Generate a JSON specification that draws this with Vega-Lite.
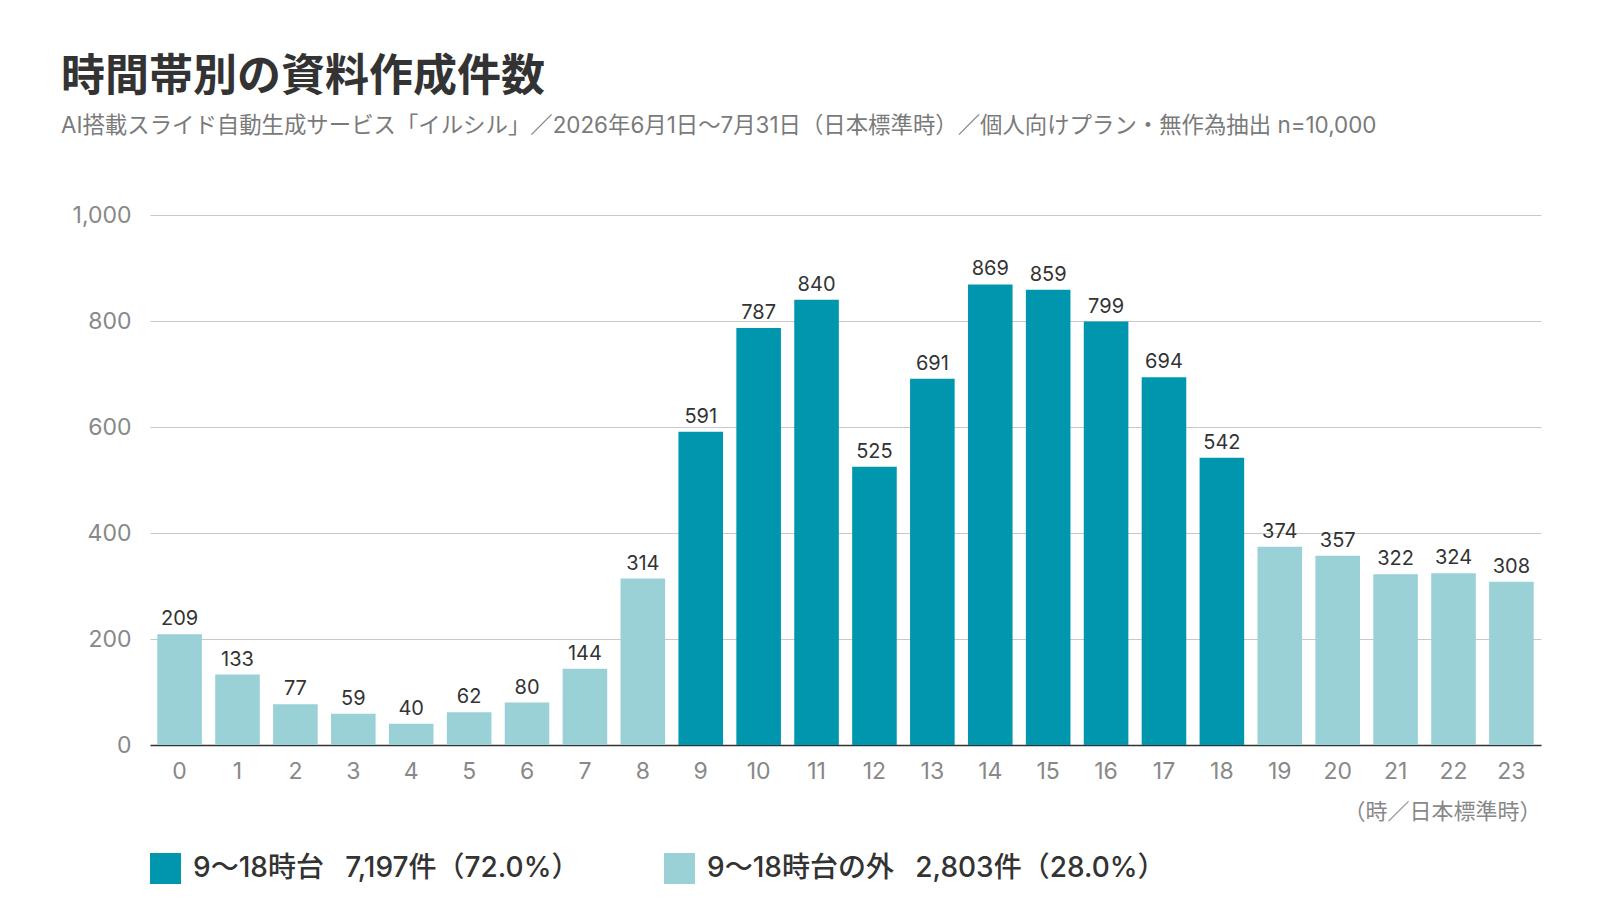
{
  "$schema": "https://vega.github.io/schema/vega-lite/v6.json",
  "width": 1391,
  "height": 530,
  "autosize": {"type": "none"},
  "padding": {"left": 150, "top": 215, "right": 59, "bottom": 155},
  "background": "white",
  "config": {
    "font": "Inter, Noto Sans CJK JP",
    "view": {"stroke": null}
  },
  "title": {
    "text": "時間帯別の資料作成件数",
    "subtitle": "AI搭載スライド自動生成サービス「イルシル」／2026年6月1日〜7月31日（日本標準時）／個人向けプラン・無作為抽出 n=10,000",
    "anchor": "start",
    "frame": "group",
    "dx": -89,
    "offset": 67,
    "font": "Noto Sans CJK JP",
    "fontSize": 44,
    "fontWeight": "bold",
    "color": "#333333",
    "subtitleFont": "Inter, Noto Sans CJK JP",
    "subtitleFontSize": 22.4,
    "subtitleColor": "#7a7a7a",
    "subtitlePadding": 15
  },
  "data": {
    "values": [
      {"hour": 0, "count": 209, "group": "out"},
      {"hour": 1, "count": 133, "group": "out"},
      {"hour": 2, "count": 77, "group": "out"},
      {"hour": 3, "count": 59, "group": "out"},
      {"hour": 4, "count": 40, "group": "out"},
      {"hour": 5, "count": 62, "group": "out"},
      {"hour": 6, "count": 80, "group": "out"},
      {"hour": 7, "count": 144, "group": "out"},
      {"hour": 8, "count": 314, "group": "out"},
      {"hour": 9, "count": 591, "group": "in"},
      {"hour": 10, "count": 787, "group": "in"},
      {"hour": 11, "count": 840, "group": "in"},
      {"hour": 12, "count": 525, "group": "in"},
      {"hour": 13, "count": 691, "group": "in"},
      {"hour": 14, "count": 869, "group": "in"},
      {"hour": 15, "count": 859, "group": "in"},
      {"hour": 16, "count": 799, "group": "in"},
      {"hour": 17, "count": 694, "group": "in"},
      {"hour": 18, "count": 542, "group": "in"},
      {"hour": 19, "count": 374, "group": "out"},
      {"hour": 20, "count": 357, "group": "out"},
      {"hour": 21, "count": 322, "group": "out"},
      {"hour": 22, "count": 324, "group": "out"},
      {"hour": 23, "count": 308, "group": "out"}
    ]
  },
  "encoding": {
    "x": {
      "field": "hour",
      "type": "ordinal",
      "scale": {"paddingInner": 0.23, "paddingOuter": 0.126},
      "axis": {
        "title": "（時／日本標準時）",
        "titleAnchor": "end",
        "titleAlign": "right",
        "titleFontSize": 22,
        "titleFontWeight": "normal",
        "titleColor": "#888888",
        "titlePadding": 18,
        "labelAngle": 0,
        "labelFontSize": 23,
        "labelColor": "#888888",
        "labelPadding": 15,
        "ticks": false,
        "domainColor": "#333333",
        "domainWidth": 1.5
      }
    },
    "y": {
      "field": "count",
      "type": "quantitative",
      "scale": {"domain": [0, 1000]},
      "axis": {
        "title": null,
        "values": [0, 200, 400, 600, 800, 1000],
        "format": ",d",
        "labelFontSize": 23,
        "labelColor": "#888888",
        "labelPadding": 19,
        "ticks": false,
        "domain": false,
        "gridColor": "#c8c8c8",
        "gridWidth": 1
      }
    }
  },
  "layer": [
    {
      "mark": {"type": "bar"},
      "encoding": {
        "color": {
          "field": "group",
          "type": "nominal",
          "scale": {"domain": ["in", "out"], "range": ["#0097ae", "#99d1d6"]},
          "legend": {
            "title": null,
            "orient": "none",
            "legendX": 0,
            "legendY": 638,
            "direction": "horizontal",
            "symbolType": "square",
            "symbolSize": 961,
            "symbolStrokeWidth": 0,
            "symbolOpacity": 1,
            "labelFont": "Inter, Noto Sans CJK JP",
            "labelFontSize": 28,
            "labelFontWeight": 500,
            "labelColor": "#333333",
            "labelOffset": 12,
            "labelLimit": 700,
            "columnPadding": 84,
            "labelExpr": "datum.value == 'in' ? '9〜18時台\u2002\u00a07,197件（72.0%）' : '9〜18時台の外\u2002\u00a02,803件（28.0%）'"
          }
        }
      }
    },
    {
      "mark": {"type": "text", "baseline": "alphabetic", "dy": -9, "fontSize": 20, "color": "#333333"},
      "encoding": {
        "text": {"field": "count", "type": "quantitative"}
      }
    }
  ]
}
